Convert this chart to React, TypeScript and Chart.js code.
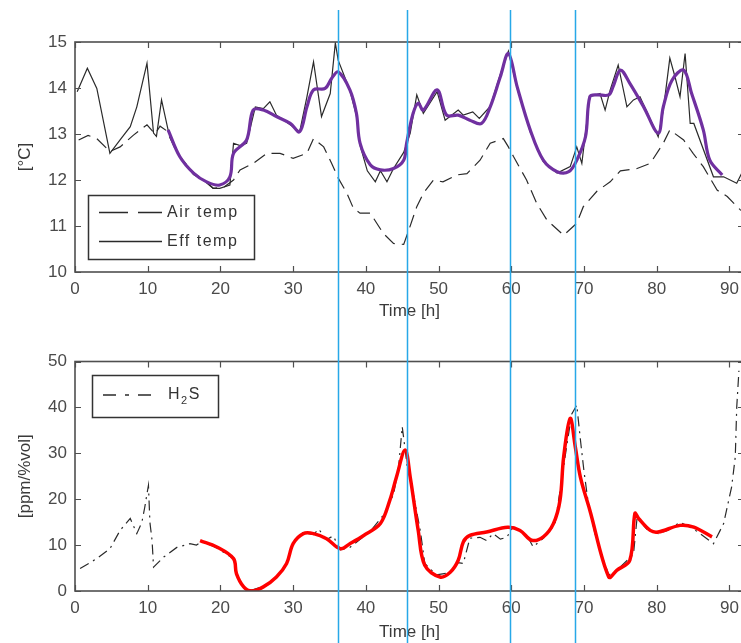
import { useEffect, useRef } from 'react';
import { Chart, registerables } from 'chart.js';

Chart.register(...registerables);

const FONT = '"Liberation Sans", Arial, sans-serif';

// ---- shared ----
const markerTimes = [36.2, 45.6, 59.8, 68.7];

// ---- top panel: temperatures [°C] ----
const airTime = [0.5, 1.8, 3.0, 4.8, 6.2, 8.0, 9.9, 11.0, 11.7, 12.6, 14, 16, 18, 19, 20.5, 21.8, 22.7, 24.5, 26.4, 28.2, 30.0, 31.9, 32.8, 34.2, 35.3, 36.2, 37.4, 38.3, 39.2, 40.6, 42.4, 43.8, 45.2, 45.9, 47.0, 47.9, 49.3, 50.6, 52.5, 53.9, 55.7, 57.1, 58.9, 59.6, 60.3, 62.1, 63.5, 64.9, 67.2, 69.0, 69.9, 71.8, 73.6, 75.0, 77.3, 79.1, 80.9, 81.8, 83.7, 85.0, 86.4, 88.3, 89.7, 91.5, 92];
const airTemp = [12.87, 12.97, 12.9, 12.62, 12.72, 12.97, 13.2, 13.0, 13.17, 13.07, 12.6, 12.2, 11.95, 11.82, 11.85, 12.0, 12.22, 12.36, 12.58, 12.58, 12.47, 12.58, 12.9, 12.72, 12.36, 12.04, 11.71, 11.38, 11.28, 11.28, 10.84, 10.62, 10.6, 10.91, 11.42, 11.71, 12.0, 11.96, 12.11, 12.14, 12.43, 12.8, 12.9, 12.72, 12.51, 12.0, 11.49, 11.13, 10.8, 11.06, 11.42, 11.76, 11.96, 12.2, 12.25, 12.36, 12.8, 13.09, 12.87, 12.58, 12.29, 11.78, 11.64, 11.35, 11.3];

const effTime = [0.3, 1.7, 3.0, 4.8, 6.2, 7.6, 8.5, 9.9, 10.8, 11.2, 11.9, 12.8, 14.4, 16.3, 18.1, 19.0, 19.9, 21.3, 21.8, 22.7, 23.6, 24.8, 25.9, 26.8, 27.7, 29.6, 30.9, 31.9, 32.8, 33.9, 35.1, 35.8, 36.2, 37.8, 38.7, 39.2, 40.2, 41.3, 42.0, 42.9, 43.8, 45.2, 46.1, 47.0, 47.9, 49.8, 50.9, 52.7, 53.4, 54.7, 55.6, 57.1, 58.5, 59.6, 60.8, 62.6, 64.4, 66.3, 68.1, 69.0, 69.7, 70.8, 72.2, 72.9, 73.6, 74.7, 75.9, 76.8, 77.7, 80.2, 80.9, 81.8, 82.5, 83.2, 83.9, 84.6, 85.1, 87.8, 89.2, 91.0, 91.7, 92];
const effTemp = [13.92, 14.43, 13.99, 12.58, 12.87, 13.16, 13.59, 14.54, 13.02, 12.95, 13.74, 13.09, 12.5, 12.12, 11.95, 11.82, 11.82, 11.89, 12.8, 12.75, 12.8, 13.59, 13.55, 13.7, 13.41, 13.2, 13.05, 13.81, 14.57, 13.38, 13.88, 14.98, 14.6, 13.95, 13.4, 12.75, 12.2, 11.96, 12.2, 11.96, 12.25, 12.6, 13.02, 13.85, 13.45, 13.92, 13.3, 13.52, 13.41, 13.48, 13.34, 13.6, 14.3, 14.8, 14.0, 13.05, 12.4, 12.15, 12.29, 12.72, 12.36, 13.81, 13.88, 13.52, 13.96, 14.5, 13.59, 13.74, 13.81, 12.94, 13.52, 14.65, 14.25, 13.81, 14.75, 13.23, 13.23, 12.07, 12.07, 11.93, 12.15, 12.1];

const effSmoothTime = [12.8, 14.4, 16.3, 18.1, 19.9, 21.3, 21.8, 23.6, 24.5, 25.9, 27.7, 29.6, 30.9, 31.9, 32.8, 34.4, 35.3, 36.2, 37.8, 38.7, 39.2, 40.6, 42.0, 43.8, 45.2, 45.6, 46.5, 47.2, 47.9, 49.8, 51.1, 52.7, 54.3, 55.9, 57.1, 58.5, 59.6, 60.8, 62.6, 64.4, 66.3, 67.9, 69.0, 70.2, 70.8, 71.8, 73.4, 74.0, 75.0, 76.3, 78.2, 80.2, 80.9, 82.1, 83.7, 84.8, 86.4, 87.3, 89.0];
const effSmoothTemp = [13.09, 12.51, 12.15, 11.96, 11.89, 12.07, 12.58, 12.87, 13.52, 13.52, 13.38, 13.23, 13.05, 13.59, 13.96, 13.99, 14.21, 14.35, 13.96, 13.45, 12.8, 12.33, 12.22, 12.25, 12.43, 12.8, 13.45, 13.67, 13.52, 13.96, 13.41, 13.41, 13.3, 13.23, 13.59, 14.25, 14.75, 14.03, 13.09, 12.43, 12.18, 12.18, 12.43, 12.94, 13.81, 13.85, 13.85, 14.03, 14.39, 14.1, 13.59, 13.02, 13.59, 14.17, 14.39, 13.88, 13.09, 12.43, 12.11];

// ---- bottom panel: H2S [ppm/%vol] ----
const h2sTime = [0.7, 3.0, 4.8, 6.2, 7.6, 8.5, 9.2, 9.6, 9.9, 10.1, 10.3, 10.6, 10.8, 12.2, 14.0, 15.8, 16.7, 17.5, 19.5, 21.8, 22.2, 23.2, 24.3, 25.9, 27.7, 29.1, 30.0, 31.4, 32.8, 33.5, 34.6, 35.5, 36.5, 37.8, 40.6, 42.4, 43.8, 44.5, 45.0, 45.7, 46.3, 47.5, 48.1, 49.7, 51.6, 52.7, 53.4, 54.3, 55.7, 56.6, 57.5, 58.5, 59.4, 60.2, 61.2, 62.2, 63.0, 64.4, 66.0, 67.0, 67.6, 68.3, 69.0, 69.5, 70.0, 70.6, 71.5, 72.4, 73.4, 74.5, 76.8, 77.3, 78.6, 80.2, 81.5, 83.2, 85.1, 87.8, 89.2, 90.3, 90.8, 91.0, 91.3];
const h2sValue = [4.9, 7.06, 9.2, 13.2, 15.8, 12.5, 15, 18.3, 21.2, 23, 15, 11, 5.2, 7.4, 9.5, 10.3, 10, 10.8, 9.4, 7.0, 3.5, 0.8, 0.2, 1.0, 3.0, 6.0, 10.5, 12.8, 12.3, 13.5, 11.2, 12.0, 9.0, 9.5, 13.0, 16.5, 21.0, 27, 35.8, 27, 23, 13, 6, 3.5, 4.0, 6.2, 6.0, 11.5, 11.7, 11.0, 12.5, 11.3, 11.7, 14, 13, 12.0, 9.6, 11.5, 14.5, 25, 31.4, 38.5, 40.5, 33, 26, 19, 12.5, 8, 3.5, 4.5, 8.0, 16, 13.5, 12.5, 13.2, 15, 13.5, 10.3, 14.7, 22.7, 29.2, 40, 48];

const h2sSmoothTime = [17.2, 19.5, 21.8, 22.2, 23.2, 24.3, 25.9, 27.7, 29.1, 30.0, 31.4, 32.8, 34.6, 36.5, 37.8, 39.7, 42.0, 43.3, 44.2, 45.4, 46.1, 47.2, 48.1, 50.2, 51.6, 52.7, 53.4, 54.3, 56.6, 59.5, 61.2, 62.8, 64.4, 65.8, 66.7, 67.2, 68.1, 68.8, 69.5, 70.8, 73.4, 74.5, 76.3, 77.0, 77.5, 79.1, 80.2, 83.2, 85.1, 87.6];
const h2sSmoothValue = [11.0, 9.6, 7.06, 3.8, 0.9, 0, 0.9, 3.05, 6.0, 10.3, 12.5, 12.5, 11.4, 9.2, 10.3, 12.1, 14.7, 19.8, 24.8, 30.7, 24.8, 13.2, 5.6, 3.05, 4.1, 6.7, 10.7, 12.1, 12.85, 13.9, 13.2, 11.05, 11.8, 14.7, 19.8, 29.2, 37.6, 31.4, 24.8, 17.6, 3.05, 4.5, 6.7, 16.9, 15.8, 13.2, 12.85, 14.3, 13.9, 11.8];

const xy = (xs: number[], ys: number[]) => xs.map((x, i) => ({ x, y: ys[i] }));

const framePlugin = {
  id: 'frame',
  afterDatasetsDraw(chart: any) {
    const { ctx, chartArea: a, scales } = chart;
    ctx.save();
    ctx.strokeStyle = '#4f4f4f';
    ctx.lineWidth = 1.6;
    ctx.strokeRect(a.left, a.top, a.right - a.left, a.bottom - a.top);
    ctx.lineWidth = 1.2;
    const L = 6;
    ctx.beginPath();
    scales.x.ticks.forEach((t: any) => {
      const px = Math.round(scales.x.getPixelForValue(t.value)) + 0.5;
      ctx.moveTo(px, a.bottom);
      ctx.lineTo(px, a.bottom - L);
      ctx.moveTo(px, a.top);
      ctx.lineTo(px, a.top + L);
    });
    scales.y.ticks.forEach((t: any) => {
      const py = Math.round(scales.y.getPixelForValue(t.value)) + 0.5;
      ctx.moveTo(a.left, py);
      ctx.lineTo(a.left + L, py);
      ctx.moveTo(a.right, py);
      ctx.lineTo(a.right - L, py);
    });
    ctx.stroke();
    ctx.restore();
  },
  afterDraw(chart: any, _args: any, opts: any) {
    const { ctx, scales } = chart;
    ctx.save();
    // legend box
    const lg = opts.legend;
    if (lg) {
      const [bx, by, bw, bh] = lg.box;
      ctx.fillStyle = '#ffffff';
      ctx.fillRect(bx, by, bw, bh);
      ctx.strokeStyle = '#333333';
      ctx.lineWidth = 1.5;
      ctx.strokeRect(bx, by, bw, bh);
      lg.items.forEach((it: any) => {
        const ds = chart.data.datasets[it.dataset];
        ctx.strokeStyle = ds.borderColor;
        ctx.lineWidth = 1.3;
        ctx.setLineDash(it.dash);
        ctx.beginPath();
        ctx.moveTo(it.x0, it.y);
        ctx.lineTo(it.x1, it.y);
        ctx.stroke();
        ctx.setLineDash([]);
        ctx.fillStyle = '#333333';
        ctx.textBaseline = 'middle';
        ctx.textAlign = 'left';
        (ctx as any).letterSpacing = '1.5px';
        ctx.font = `16px ${FONT}`;
        const label: string = ds.label;
        if (it.sub) {
          const [a, b, c] = label.split('|');
          let x = it.tx;
          ctx.fillText(a, x, it.y);
          x += ctx.measureText(a).width;
          ctx.font = `11px ${FONT}`;
          ctx.fillText(b, x, it.y + 6);
          x += ctx.measureText(b).width;
          ctx.font = `16px ${FONT}`;
          ctx.fillText(c, x, it.y);
        } else {
          ctx.fillText(label, it.tx, it.y);
        }
        (ctx as any).letterSpacing = '0px';
      });
    }
    // vertical marker lines
    ctx.strokeStyle = '#27a8e8';
    ctx.lineWidth = 1.5;
    ctx.beginPath();
    markerTimes.forEach((t) => {
      const px = Math.round(scales.x.getPixelForValue(t)) + 0.5;
      ctx.moveTo(px, opts.lineTop);
      ctx.lineTo(px, chart.height);
    });
    ctx.stroke();
    ctx.restore();
  },
};

function makeOptions(cfg: any) {
  return {
    animation: false,
    responsive: true,
    maintainAspectRatio: false,
    devicePixelRatio: 1,
    layout: { padding: { top: cfg.padTop, right: 2, bottom: 0, left: 0 } },
    plugins: {
      legend: { display: false },
      tooltip: { enabled: false },
      frame: { legend: cfg.legend, lineTop: cfg.lineTop },
    },
    elements: { point: { radius: 0 } },
    scales: {
      x: {
        type: 'linear',
        min: 0,
        max: 92,
        grid: { display: false, drawTicks: false },
        border: { display: false },
        ticks: { stepSize: 10, includeBounds: false, padding: 7, color: '#4a4a4a', font: { family: FONT, size: 17 } },
        title: { display: true, text: 'Time [h]', color: '#3a3a3a', padding: { top: 0, bottom: 0 }, font: { family: FONT, size: 17 } },
        afterFit: (s: any) => { s.height = cfg.xHeight; },
      },
      y: {
        type: 'linear',
        min: cfg.yMin,
        max: cfg.yMax,
        grid: { display: false, drawTicks: false },
        border: { display: false },
        ticks: { stepSize: cfg.yStep, padding: 8, color: '#4a4a4a', font: { family: FONT, size: 17 } },
        title: { display: true, text: cfg.yTitle, color: '#3a3a3a', padding: { top: 15, bottom: 0 }, font: { family: FONT, size: 17 } },
        afterFit: (s: any) => { s.width = 75; },
      },
    },
  };
}

function TopChart() {
  const ref = useRef<HTMLCanvasElement>(null);
  useEffect(() => {
    const chart = new Chart(ref.current as HTMLCanvasElement, {
      type: 'line',
      data: {
        datasets: [
          { label: 'Eff temp (smoothed)', data: xy(effSmoothTime, effSmoothTemp), borderColor: '#7030a0', borderWidth: 3.2, tension: 0.35 },
          { label: 'Air temp', data: xy(airTime, airTemp), borderColor: '#2a2a2a', borderWidth: 1.2, borderDash: [13, 7], tension: 0 },
          { label: 'Eff temp', data: xy(effTime, effTemp), borderColor: '#2a2a2a', borderWidth: 1.2, tension: 0 },
        ],
      },
      options: makeOptions({
        padTop: 42, xHeight: 50, yMin: 10, yMax: 15, yStep: 1, yTitle: '[°C]', lineTop: 10,
        legend: {
          box: [88.5, 195.5, 166, 64],
          items: [
            { dataset: 1, x0: 99, x1: 162, y: 212.5, tx: 167, dash: [29, 10] },
            { dataset: 2, x0: 99, x1: 162, y: 241.5, tx: 167, dash: [] },
          ],
        },
      }) as any,
      plugins: [framePlugin],
    });
    return () => chart.destroy();
  }, []);
  return <canvas ref={ref} />;
}

function BottomChart() {
  const ref = useRef<HTMLCanvasElement>(null);
  useEffect(() => {
    const chart = new Chart(ref.current as HTMLCanvasElement, {
      type: 'line',
      data: {
        datasets: [
          { label: 'H2S (smoothed)', data: xy(h2sSmoothTime, h2sSmoothValue), borderColor: '#ff0000', borderWidth: 3.5, tension: 0.35 },
          { label: 'H|2|S', data: xy(h2sTime, h2sValue), borderColor: '#2a2a2a', borderWidth: 1.2, borderDash: [10, 5, 2, 5], tension: 0 },
        ],
      },
      options: makeOptions({
        padTop: 39.5, xHeight: 52, yMin: 0, yMax: 50, yStep: 10, yTitle: '[ppm/%vol]', lineTop: 0,
        legend: {
          box: [92.5, 53.5, 126, 42],
          items: [
            { dataset: 1, x0: 103, x1: 157, y: 73, tx: 168, dash: [13, 9, 4, 9], sub: true },
          ],
        },
      }) as any,
      plugins: [framePlugin],
    });
    return () => chart.destroy();
  }, []);
  return <canvas ref={ref} />;
}

export default function App() {
  return (
    <div style={{ position: 'absolute', left: 0, top: 0, width: 741, height: 643, overflow: 'hidden', background: '#ffffff' }}>
      <div style={{ position: 'absolute', left: 0, top: 0, width: 746, height: 322 }}>
        <TopChart />
      </div>
      <div style={{ position: 'absolute', left: 0, top: 322, width: 746, height: 321 }}>
        <BottomChart />
      </div>
    </div>
  );
}
